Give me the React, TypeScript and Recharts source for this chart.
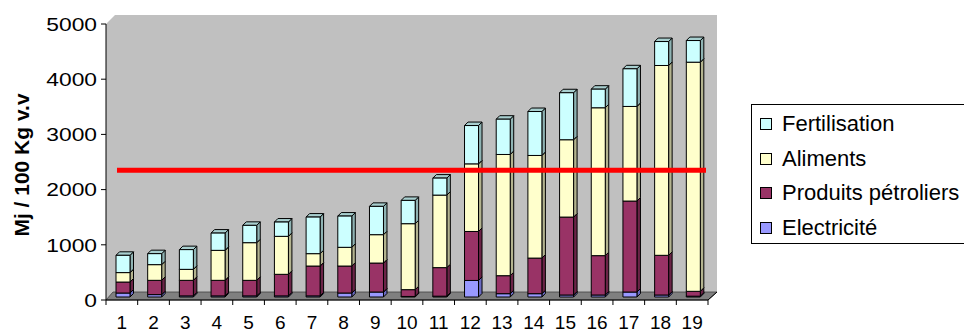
import React from "react";
import {
  BarChart,
  Bar,
  XAxis,
  YAxis,
  Legend,
  ReferenceArea,
  ReferenceLine,
} from "recharts";

// data (Mj / 100 Kg v.v)
const categories = ["1", "2", "3", "4", "5", "6", "7", "8", "9", "10", "11", "12", "13", "14", "15", "16", "17", "18", "19"];
const electricite = [72, 43, 20, 20, 20, 20, 20, 72, 90, 10, 15, 300, 60, 60, 36, 36, 90, 36, 15];
const produitsPetroliers = [199, 259, 282, 282, 282, 391, 541, 489, 525, 123, 517, 887, 326, 645, 1412, 713, 1648, 719, 88];
const aliments = [171, 284, 199, 543, 682, 688, 224, 339, 514, 1195, 1314, 1225, 2196, 1859, 1401, 2679, 1714, 3439, 4151];
const fertilisation = [313, 199, 357, 313, 314, 259, 663, 566, 513, 422, 308, 694, 639, 796, 851, 337, 682, 434, 392];
const yTicks = [0, 1000, 2000, 3000, 4000, 5000];
const seuil = 2350;

const data = categories.map((c, i) => ({
  cat: c,
  elec: electricite[i],
  petro: produitsPetroliers[i],
  alim: aliments[i],
  fert: fertilisation[i],
}));

const series = [
  { key: "elec", name: "Electricité", front: "#9999FF", top: "#B3B3FF", side: "#6B6BC2" },
  { key: "petro", name: "Produits pétroliers", front: "#993366", top: "#7A2952", side: "#6B2447" },
  { key: "alim", name: "Aliments", front: "#FFFFCC", top: "#D6D6AD", side: "#B3B38F" },
  { key: "fert", name: "Fertilisation", front: "#CCFFFF", top: "#A8CFCF", side: "#8FB3B3" },
];

const FONT = "'Liberation Sans', Arial, sans-serif";
const D = 3.5; // depth of the 3d boxes

const box3d = (s: typeof series[number]) => (props: any) => {
  const { x, y, width, height } = props;
  if (!width || height == null) return <g />;
  const fx = x + 1;
  const fy = y - 3;
  const w = width;
  const h = Math.max(height, 0);
  return (
    <g stroke="#000" strokeWidth={1} strokeLinejoin="round">
      <polygon
        points={`${fx + w},${fy} ${fx + w + D},${fy - D} ${fx + w + D},${fy + h - D} ${fx + w},${fy + h}`}
        fill={s.side}
      />
      <polygon
        points={`${fx},${fy} ${fx + D},${fy - D} ${fx + w + D},${fy - D} ${fx + w},${fy}`}
        fill={s.top}
      />
      <rect x={fx} y={fy} width={w} height={h} fill={s.front} />
    </g>
  );
};

// back wall + floor
const WallAndFloor = (props: any) => {
  const { x, y, width, height } = props;
  const b = y + height;
  return (
    <g>
      <polygon
        points={`${x},${b} ${x},${y} ${x + 9},${y - 9} ${x + width + 9},${y - 9} ${x + width + 9},${b - 8}`}
        fill="#C0C0C0"
        stroke="none"
      />
      <polygon
        points={`${x},${b} ${x + 7},${b - 8} ${x + width + 9},${b - 8} ${x + width},${b}`}
        fill="#808080"
        stroke="#404040"
        strokeWidth={0.8}
      />
      <line x1={x + width} y1={b} x2={x + width + 9} y2={b - 8} stroke="#000" strokeWidth={1} />
    </g>
  );
};

const XTick = (props: any) => {
  const { x, y, payload, index, width, visibleTicksCount } = props;
  const band = width && visibleTicksCount ? width / visibleTicksCount : 31.7;
  return (
    <g>
      {index === 0 && (
        <line x1={x - band / 2} y1={y} x2={x - band / 2} y2={y + 5} stroke="#000" />
      )}
      <line x1={x + band / 2} y1={y} x2={x + band / 2} y2={y + 5} stroke="#000" />
      <text x={x} y={y + 29} textAnchor="middle" fontSize={19} fontFamily={FONT} fill="#000">
        {payload.value}
      </text>
    </g>
  );
};

const YTick = (props: any) => {
  const { x, y, payload } = props;
  return (
    <g transform={`translate(${x},${y})`}>
      <text
        x={0}
        y={0}
        dy="0.36em"
        textAnchor="end"
        transform="scale(1.2,1)"
        fontSize={19}
        fontFamily={FONT}
        fill="#000"
      >
        {payload.value}
      </text>
    </g>
  );
};

const YTitle = (props: any) => {
  const vb = props.viewBox || { x: 0, y: 24, width: 106, height: 276 };
  const cx = vb.x + 21;
  const cy = vb.y + vb.height / 2 + 3;
  return (
    <text
      x={cx}
      y={cy}
      transform={`rotate(-90, ${cx}, ${cy})`}
      textAnchor="middle"
      dominantBaseline="central"
      fontSize={21}
      fontWeight="bold"
      fontFamily={FONT}
      fill="#000"
    >
      Mj / 100 Kg v.v
    </text>
  );
};

const LegendBox = () => (
  <div
    style={{
      boxSizing: "border-box",
      width: 213,
      height: 140,
      border: "1px solid #000",
      borderRight: "none",
      background: "#fff",
      paddingTop: 2,
      fontFamily: FONT,
      fontSize: 22,
      color: "#000",
    }}
  >
    {[...series].reverse().map((s) => (
      <div key={s.key} style={{ display: "flex", alignItems: "center", height: 34.5 }}>
        <span
          style={{
            display: "inline-block",
            width: 10,
            height: 10,
            marginLeft: 8,
            marginRight: 10,
            background: s.front,
            border: "1px solid #000",
          }}
        />
        <span style={{ whiteSpace: "nowrap" }}>{s.name}</span>
      </div>
    ))}
  </div>
);

export default function App() {
  return (
    <div style={{ position: "absolute", left: 0, top: 0, width: 964, height: 333, background: "#fff" }}>
      <BarChart
        width={964}
        height={333}
        data={data}
        margin={{ top: 24, right: 256, bottom: 0, left: 0 }}
        barCategoryGap={0}
      >
        <ReferenceArea y1={0} y2={5000} shape={WallAndFloor} ifOverflow="visible" />
        <XAxis
          dataKey="cat"
          height={33}
          tickLine={false}
          tickSize={0}
          tickMargin={0}
          interval={0}
          axisLine={{ stroke: "#000" }}
          tick={<XTick />}
        />
        <YAxis
          width={106}
          domain={[0, 5000]}
          ticks={yTicks}
          tickSize={5}
          tickMargin={4}
          axisLine={{ stroke: "#000" }}
          tickLine={{ stroke: "#000" }}
          tick={<YTick />}
          label={YTitle}
        />
        {series.map((s) => (
          <Bar
            key={s.key}
            dataKey={s.key}
            name={s.name}
            stackId="a"
            barSize={14}
            fill={s.front}
            shape={box3d(s)}
            isAnimationActive={false}
          />
        ))}
        <ReferenceLine
          y={seuil}
          stroke="#FF0000"
          strokeWidth={5}
          ifOverflow="visible"
          shape={(p: any) => (
            <line x1={p.x1 + 11} y1={p.y1} x2={p.x2 - 2} y2={p.y2} stroke="#FF0000" strokeWidth={5} />
          )}
        />
        <Legend
          layout="horizontal"
          align="center"
          verticalAlign="middle"
          content={<LegendBox />}
          wrapperStyle={{ left: 751, top: 104, width: 213, height: 140 }}
        />
      </BarChart>
    </div>
  );
}
